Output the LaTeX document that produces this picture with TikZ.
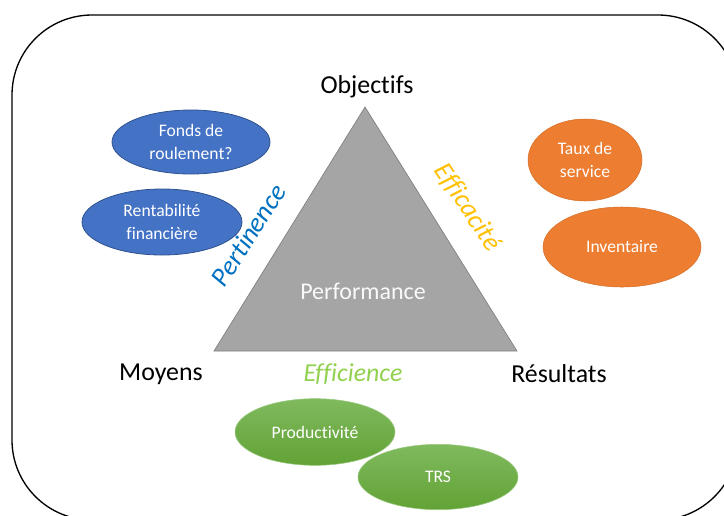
\documentclass[tikz,border=0pt]{standalone}
\usepackage{fontspec}
\setmainfont{Carlito}[Ligatures=NoCommon]
\usetikzlibrary{shapes.geometric}
\definecolor{bluefill}{HTML}{4472C4}
\definecolor{blueline}{HTML}{2F528F}
\definecolor{orangefill}{HTML}{ED7D31}
\definecolor{greentop}{HTML}{7FBA5E}
\definecolor{greenbot}{HTML}{62A235}
\definecolor{trigray}{HTML}{A5A5A5}
\definecolor{triline}{HTML}{7F7F7F}
\definecolor{pertblue}{HTML}{0070C0}
\definecolor{effgold}{HTML}{FFC000}
\definecolor{effgreen}{HTML}{92D050}
\tikzset{
  bubble/.style={ellipse, inner sep=0pt, align=center, text=white, font=\fontsize{13.2}{16.8}\selectfont},
  bluebub/.style={bubble, fill=bluefill, draw=blueline, line width=0.6pt},
  orangebub/.style={bubble, fill=orangefill, draw=orangefill!90!black, line width=0.4pt},
  greenbub/.style={bubble, top color=greentop, bottom color=greenbot, draw=greentop!80!white, line width=0.4pt},
  corner/.style={font=\fontsize{19.4}{22}\selectfont, text=black, inner sep=0pt},
  sidelabel/.style={font=\fontsize{20.2}{24}\selectfont\itshape, inner sep=0pt},
}
\begin{document}
\begin{tikzpicture}[x=0.75pt,y=-0.75pt]
\useasboundingbox (0,0) rectangle (724,515);
% frame
\draw[line width=1pt, rounded corners=60pt] (12,15) rectangle (738,520);
% triangle
\coordinate (apex) at (365,107);
\coordinate (bl) at (214,351);
\coordinate (br) at (517,351);
\draw[fill=trigray, draw=triline, line width=0.5pt] (apex) -- (br) -- (bl) -- cycle;
\node[inner sep=0pt, text=white!95!gray, font=\fontsize{18}{20}\selectfont] (perf) at (363,291) {Performance};
% corner labels
\node[corner] (obj) at (367,87) {Objectifs};
\node[corner] (moy) at (161,374) {Moyens};
\node[corner] (res) at (559,374) {Résultats};
\node[corner, text=effgreen, font=\fontsize{19.4}{22}\selectfont\itshape] (effi) at (353,374) {Efficience};
% side labels
\node[sidelabel, text=pertblue, rotate=57] (pert) at (248.5,235) {Pertinence};
\node[sidelabel, text=effgold, rotate=-56] (effc) at (467.5,207.5) {Efficacité};
% bubbles
\node[bluebub, minimum width=118.5pt, minimum height=48pt] (fonds) at (191,142) {Fonds de\\roulement?};
\node[bluebub, minimum width=120pt, minimum height=49.5pt] (rent) at (162,222) {Rentabilité\\financière};
\node[orangebub, minimum width=85.5pt, minimum height=61.5pt] (taux) at (585,160) {Taux de\\service};
\node[orangebub, minimum width=118.5pt, minimum height=60pt] (inv) at (622,247) {Inventaire};
\node[greenbub, minimum width=120pt, minimum height=50pt] (prod) at (315,432) {Productivité};
\node[greenbub, minimum width=120pt, minimum height=49pt] (trs) at (438,477) {TRS};
\end{tikzpicture}
\end{document}
